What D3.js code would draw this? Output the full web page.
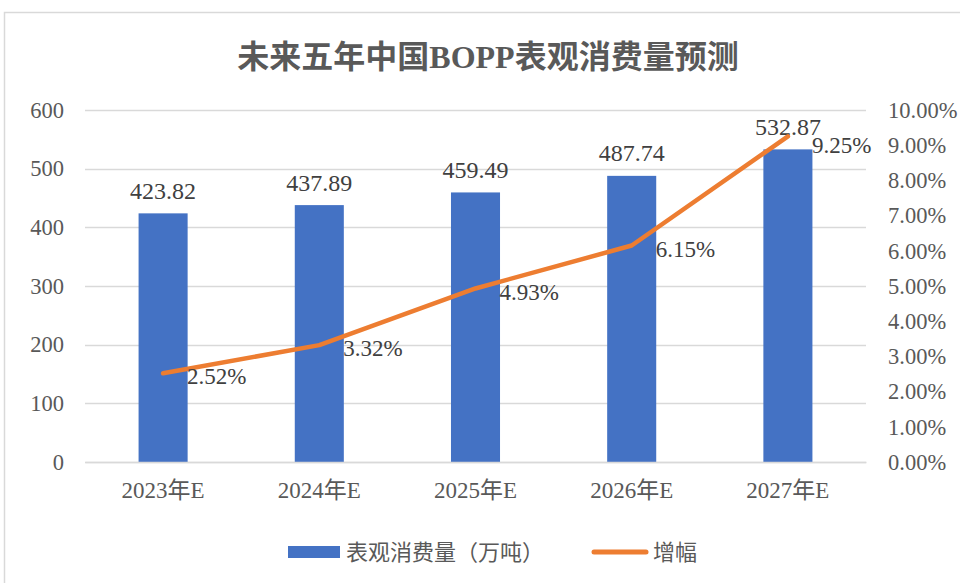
<!DOCTYPE html>
<html>
<head>
<meta charset="utf-8">
<script src="https://cdn.jsdelivr.net/npm/d3@7"></script>
<style>
  body { margin: 0; background: #fff; }
  svg { display: block; font-family: "Liberation Serif", "Noto Sans CJK SC", serif; }
</style>
</head>
<body>
<div id="chart"></div>
<script>
const title = "未来五年中国BOPP表观消费量预测";
const categories = ["2023年E", "2024年E", "2025年E", "2026年E", "2027年E"];
const consumption = [423.82, 437.89, 459.49, 487.74, 532.87];
const growth = [0.0252, 0.0332, 0.0493, 0.0615, 0.0925];
const leftTicks = [0, 100, 200, 300, 400, 500, 600];
const rightTicks = [0, 0.01, 0.02, 0.03, 0.04, 0.05, 0.06, 0.07, 0.08, 0.09, 0.10];
const seriesNames = ["表观消费量（万吨）", "增幅"];

const svgWidth = 960, svgHeight = 583;
const margin = {top: 110, right: 94, bottom: 121, left: 85};
const width = svgWidth - margin.left - margin.right;
const height = svgHeight - margin.top - margin.bottom;

const barColour = "#4472C4", lineColour = "#ED7D31";
const axisText = "#595959", labelText = "#404040", gridColour = "#d9d9d9";
const fontFamily = `"Liberation Serif", "Noto Sans CJK SC", serif`;

const svg = d3.select("#chart").append("svg")
    .attr("width", svgWidth)
    .attr("height", svgHeight);

// chart frame
svg.append("path")
    .attr("d", `M4.5,${svgHeight} V12.5 H${svgWidth}`)
    .attr("fill", "none")
    .attr("stroke", gridColour)
    .attr("stroke-width", 1.5);

svg.append("text")
    .attr("x", 488)
    .attr("y", 68)
    .attr("text-anchor", "middle")
    .attr("fill", axisText)
    .style("font-size", "32px")
    .style("font-weight", "bold")
    .text(title);

const plotArea = svg.append("g")
    .attr("transform", `translate(${margin.left},${margin.top})`);

const x = d3.scaleBand()
    .domain(categories)
    .range([0, width])
    .paddingInner(0.686)
    .paddingOuter(0.343);

const y = d3.scaleLinear().domain([0, 600]).range([height, 0]);
const y2 = d3.scaleLinear().domain([0, 0.10]).range([height, 0]);

// gridlines
plotArea.append("g")
    .selectAll("line")
    .data(leftTicks)
    .join("line")
    .attr("x1", 0)
    .attr("x2", width)
    .attr("y1", d => Math.round(y(d)) + 0.5)
    .attr("y2", d => Math.round(y(d)) + 0.5)
    .attr("stroke", gridColour)
    .attr("stroke-width", 1.3);

// left axis
const yAxis = plotArea.append("g")
    .call(d3.axisLeft(y).tickValues(leftTicks).tickSize(0).tickPadding(21))
    .attr("font-family", fontFamily)
    .attr("font-size", 22.5);
yAxis.select(".domain").remove();
yAxis.selectAll("text").attr("fill", axisText);

// right axis
const yAxis2 = plotArea.append("g")
    .attr("transform", `translate(${width},0)`)
    .call(d3.axisRight(y2).tickValues(rightTicks).tickSize(0).tickPadding(22)
        .tickFormat(d => (d * 100).toFixed(2) + "%"))
    .attr("font-family", fontFamily)
    .attr("font-size", 22.5);
yAxis2.select(".domain").remove();
yAxis2.selectAll("text").attr("fill", axisText);

// bars
plotArea.selectAll(".bar")
    .data(categories)
    .join("rect")
    .attr("class", "bar")
    .attr("x", d => x(d))
    .attr("width", x.bandwidth())
    .attr("y", (d, i) => y(consumption[i]))
    .attr("height", (d, i) => height - y(consumption[i]))
    .attr("fill", barColour);

// x axis
const xAxis = plotArea.append("g")
    .attr("transform", `translate(0,${height})`)
    .call(d3.axisBottom(x).tickSize(0).tickPadding(20))
    .attr("font-family", fontFamily)
    .attr("font-size", 23);
xAxis.select(".domain").attr("stroke", gridColour).attr("stroke-width", 1.5);
xAxis.selectAll("text").attr("fill", axisText);

// bar labels
plotArea.selectAll(".barLabel")
    .data(categories)
    .join("text")
    .attr("class", "barLabel")
    .attr("x", d => x(d) + x.bandwidth() / 2)
    .attr("y", (d, i) => y(consumption[i]) - 23)
    .attr("dy", "0.35em")
    .attr("text-anchor", "middle")
    .attr("fill", labelText)
    .style("font-size", "24px")
    .text((d, i) => consumption[i].toFixed(2));

// growth line
const line = d3.line()
    .x(d => x(d.cat) + x.bandwidth() / 2)
    .y(d => y2(d.value));
const lineData = categories.map((c, i) => ({cat: c, value: growth[i]}));

plotArea.append("path")
    .datum(lineData)
    .attr("d", line)
    .attr("fill", "none")
    .attr("stroke", lineColour)
    .attr("stroke-width", 4.5)
    .attr("stroke-linecap", "round")
    .attr("stroke-linejoin", "round");

plotArea.selectAll(".lineLabel")
    .data(lineData)
    .join("text")
    .attr("class", "lineLabel")
    .attr("x", d => x(d.cat) + x.bandwidth() / 2 + 24)
    .attr("y", (d, i) => y2(d.value) + (i === 4 ? 9 : 3))
    .attr("dy", "0.35em")
    .attr("fill", labelText)
    .style("font-size", "23px")
    .text(d => (d.value * 100).toFixed(2) + "%");

// legend
const legend = svg.append("g");
legend.append("rect")
    .attr("x", 288).attr("y", 546)
    .attr("width", 52).attr("height", 12)
    .attr("fill", barColour);
legend.append("text")
    .attr("x", 346).attr("y", 552)
    .attr("dy", "0.35em")
    .attr("fill", axisText)
    .style("font-size", "22px")
    .text(seriesNames[0]);
legend.append("line")
    .attr("x1", 594).attr("x2", 646)
    .attr("y1", 552).attr("y2", 552)
    .attr("stroke", lineColour)
    .attr("stroke-width", 5)
    .attr("stroke-linecap", "round");
legend.append("text")
    .attr("x", 653).attr("y", 552)
    .attr("dy", "0.35em")
    .attr("fill", axisText)
    .style("font-size", "22px")
    .text(seriesNames[1]);
</script>
</body>
</html>
